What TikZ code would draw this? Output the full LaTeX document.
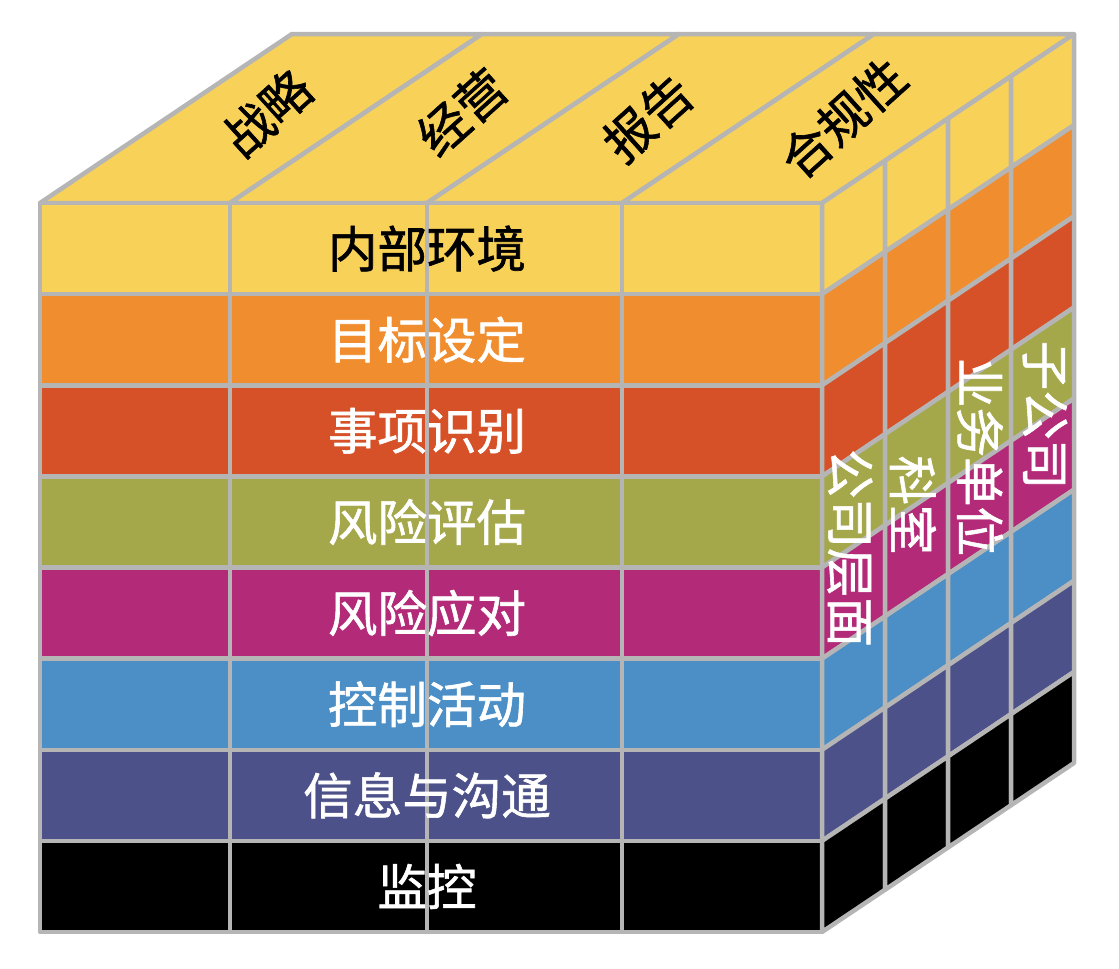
\documentclass[tikz,border=0pt]{standalone}
\usepackage{fontspec}
\newfontfamily\cjk[FakeBold=1.2]{Noto Sans CJK SC}
\definecolor{cubeyellow}{HTML}{F8D158}
\definecolor{cubeorange}{HTML}{F08D2F}
\definecolor{cubered}{HTML}{D65128}
\definecolor{cubeolive}{HTML}{A5A84A}
\definecolor{cubemagenta}{HTML}{B32A78}
\definecolor{cubeblue}{HTML}{4B8FC6}
\definecolor{cubeindigo}{HTML}{4C5189}
\definecolor{cubeblack}{HTML}{000000}
\definecolor{cubegray}{HTML}{B5B5B5}
\begin{document}
\begin{tikzpicture}[x=1pt, y=-1pt,
  cell/.style={draw=cubegray, line width=4.5pt, line join=round},
  cubetext/.style={font=\cjk\fontsize{49.5}{50}\selectfont, inner sep=0pt}]
\useasboundingbox (0,0) rectangle (1119,969);

% top face
\foreach \xa/\xb in {40/230,230/427,427/622,622/822}
  \filldraw[cell, fill=cubeyellow] (\xa,203) -- (\xb,203) -- ++(252,-169) -- ({\xa+252},34) -- cycle;

% front and right faces
\foreach \i/\col in {0/cubeyellow,1/cubeorange,2/cubered,3/cubeolive,4/cubemagenta,5/cubeblue,6/cubeindigo,7/cubeblack} {
  \foreach \xa/\xb in {40/230,230/427,427/622,622/822}
    \filldraw[cell, fill=\col] (\xa,{203+\i*91.125}) rectangle (\xb,{203+(\i+1)*91.125});
  \foreach \k in {0,...,3}
    \filldraw[cell, fill=\col] ({822+\k*63},{203+\i*91.125-\k*42.25}) -- ++(63,-42.25) -- ++(0,91.125) -- ++(-63,42.25) -- cycle;
}

% components
\foreach \i/\lab/\tc in {0/内部环境/black,1/目标设定/white,2/事项识别/white,3/风险评估/white,4/风险应对/white,5/控制活动/white,6/信息与沟通/white,7/监控/white}
  \node[cubetext, text=\tc] (row\i) at (427,{203+(\i+0.5)*91.125}) {\lab};

% objectives
\node[cubetext, rotate=42] (obj1) at (267,113) {战略};
\node[cubetext, rotate=42] (obj2) at (462,112) {经营};
\node[cubetext, rotate=42] (obj3) at (648,118) {报告};
\node[cubetext, rotate=42] (obj4) at (843,118) {合规性};

% units
\node[cubetext, text=white, rotate=-90] (unit1) at (850,548) {公司层面};
\node[cubetext, text=white, rotate=-90] (unit2) at (913,505) {科室};
\node[cubetext, text=white, rotate=-90] (unit3) at (980,457) {业务单位};
\node[cubetext, text=white, rotate=-90] (unit4) at (1045,415) {子公司};

\end{tikzpicture}
\end{document}
